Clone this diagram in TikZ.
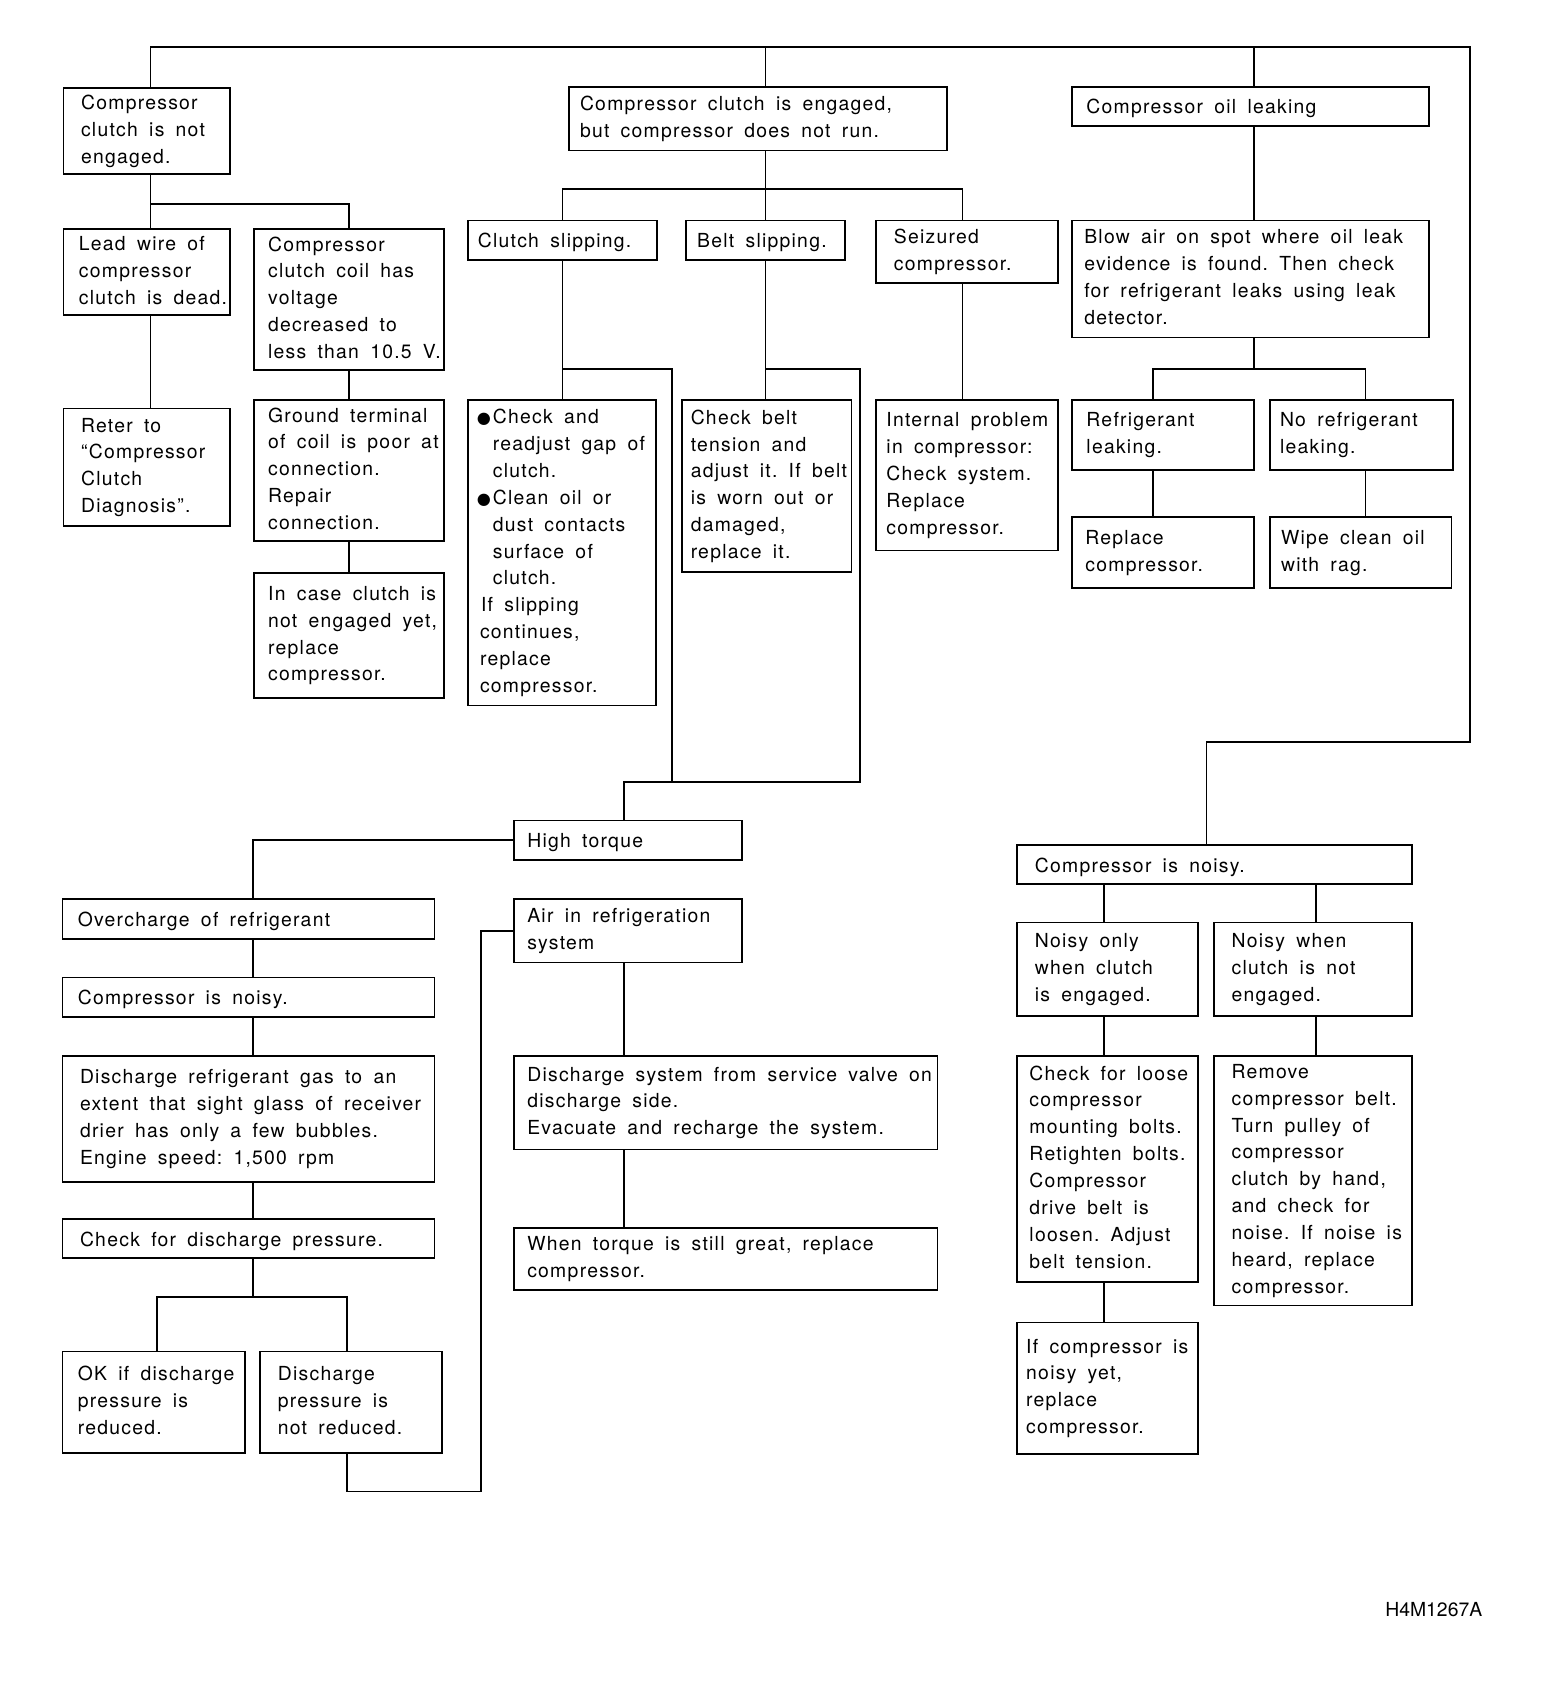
\documentclass[tikz,border=0pt]{standalone}
\usepackage{fontspec}
\setmainfont{TeX Gyre Heros}[LetterSpace=6.5, WordSpace=1.7]
\newfontfamily\plainfont{TeX Gyre Heros}
\newfontfamily\symfont{DejaVu Sans}
\newcommand\dgfont{\fontsize{9pt}{12.5pt}\selectfont\frenchspacing}
\newcommand\bul{\makebox[7.5pt][l]{\symfont\fontsize{7.5pt}{12.5pt}\selectfont ●}}
\newcommand\ind{\hspace*{7.5pt}}
\tikzset{
  fr/.style 2 args={draw, line width=0.8pt, anchor=north west, inner sep=0pt, outer sep=0pt,
    minimum width=#1*0.5pt, minimum height=#2*0.5pt},
  tx/.style={anchor=west, align=left, inner sep=0pt, font=\dgfont, yshift=-1pt,
    execute at begin node=\strut, execute at end node=\strut},
  ln/.style={line width=0.8pt}
}
\begin{document}
\begin{tikzpicture}[x=0.5pt, y=-0.5pt]
\useasboundingbox (0,0) rectangle (1458,1568);

% ---------- left column top ----------
\node[fr={155}{80}] (A) at (59,82) {};
\node[tx] (At) at ([xshift=8pt]A.west) {Compressor\\clutch is not\\engaged.};
\node[fr={155}{80}] (B) at (59,213) {};
\node[tx] (Bt) at ([xshift=7pt]B.west) {Lead wire of\\compressor\\clutch is dead.};
\node[fr={177}{131}] (C) at (236,213) {};
\node[tx] (Ct) at ([xshift=6.5pt]C.west) {Compressor\\clutch coil has\\voltage\\decreased to\\less than 10.5 V.};
\node[fr={155}{109}] (D) at (59,380) {};
\node[tx] (Dt) at ([xshift=8pt]D.west) {Reter to\\“Compressor\\Clutch\\Diagnosis”.};
\node[fr={177}{131}] (E) at (236,372) {};
\node[tx] (Et) at ([xshift=6.5pt]E.west) {Ground terminal\\of coil is poor at\\connection.\\Repair\\connection.};
\node[fr={177}{116}] (F) at (236,533) {};
\node[tx] (Ft) at ([xshift=6.5pt]F.west) {In case clutch is\\not engaged yet,\\replace\\compressor.};

% ---------- middle top ----------
\node[fr={352}{59}] (G) at (529,81) {};
\node[tx] (Gt) at ([xshift=5pt]G.west) {Compressor clutch is engaged,\\but compressor does not run.};
\node[fr={176}{37}] (H) at (435,205) {};
\node[tx] (Ht) at ([xshift=4.5pt]H.west) {Clutch slipping.};
\node[fr={148}{37}] (I) at (638,205) {};
\node[tx] (It) at ([xshift=5pt]I.west) {Belt slipping.};
\node[fr={169}{58}] (J) at (815,205) {};
\node[tx] (Jt) at ([xshift=8pt]J.west) {Seizured\\compressor.};
\node[fr={175}{284}] (K) at (435,372) {};
\node[tx] (Kt) at ([xshift=4pt]K.west) {\bul Check and\\\ind readjust gap of\\\ind clutch.\\\bul Clean oil or\\\ind dust contacts\\\ind surface of\\\ind clutch.\\\hspace*{2pt}If slipping\\\hspace*{1.5pt}continues,\\\hspace*{1.5pt}replace\\\hspace*{1.5pt}compressor.};
\node[fr={158}{160}] (L) at (634,372) {};
\node[tx] (Lt) at ([xshift=4pt]L.west) {Check belt\\tension and\\adjust it. If belt\\is worn out or\\damaged,\\replace it.};
\node[fr={169}{140}] (M) at (815,372) {};
\node[tx] (Mt) at ([xshift=4.5pt]M.west) {Internal problem\\in compressor:\\Check system.\\Replace\\compressor.};

% ---------- right top ----------
\node[fr={332}{36}] (N) at (997,81) {};
\node[tx] (Nt) at ([xshift=6.5pt]N.west) {Compressor oil leaking};
\node[fr={332}{109}] (O) at (997,205) {};
\node[tx] (Ot) at ([xshift=5.5pt]O.west) {Blow air on spot where oil leak\\evidence is found. Then check\\for refrigerant leaks using leak\\detector.};
\node[fr={169}{65}] (P) at (997,372) {};
\node[tx] (Pt) at ([xshift=6.5pt]P.west) {Refrigerant\\leaking.};
\node[fr={170}{65}] (Q) at (1181,372) {};
\node[tx] (Qt) at ([xshift=4.5pt]Q.west) {No refrigerant\\leaking.};
\node[fr={169}{66}] (R) at (997,481) {};
\node[tx] (Rt) at ([xshift=6pt]R.west) {Replace\\compressor.};
\node[fr={169}{66}] (S) at (1181,481) {};
\node[tx] (St) at ([xshift=5pt]S.west) {Wipe clean oil\\with rag.};

% ---------- high torque branch ----------
\node[fr={212}{37}] (T) at (478,763) {};
\node[tx] (Tt) at ([xshift=6pt]T.west) {High torque};
\node[fr={346}{37}] (U) at (58,836) {};
\node[tx] (Ut) at ([xshift=7pt]U.west) {Overcharge of refrigerant};
\node[fr={346}{37}] (V) at (58,909) {};
\node[tx] (Vt) at ([xshift=7pt]V.west) {Compressor is noisy.};
\node[fr={346}{117}] (W) at (58,982) {};
\node[tx] (Wt) at ([xshift=8pt]W.west) {Discharge refrigerant gas to an\\extent that sight glass of receiver\\drier has only a few bubbles.\\Engine speed: 1,500 rpm};
\node[fr={346}{36}] (X) at (58,1134) {};
\node[tx] (Xt) at ([xshift=8pt]X.west) {Check for discharge pressure.};
\node[fr={170}{94}] (Y) at (58,1257) {};
\node[tx] (Yt) at ([xshift=7pt]Y.west) {OK if discharge\\pressure is\\reduced.};
\node[fr={169}{94}] (Z) at (242,1257) {};
\node[tx] (Zt) at ([xshift=8pt]Z.west) {Discharge\\pressure is\\not reduced.};
\node[fr={212}{59}] (AA) at (478,836) {};
\node[tx] (AAt) at ([xshift=6pt]AA.west) {Air in refrigeration\\system};
\node[fr={394}{87}] (AB) at (478,982) {};
\node[tx] (ABt) at ([xshift=6pt]AB.west) {Discharge system from service valve on\\discharge side.\\Evacuate and recharge the system.};
\node[fr={394}{58}] (AC) at (478,1142) {};
\node[tx] (ACt) at ([xshift=6pt]AC.west) {When torque is still great, replace\\compressor.};

% ---------- noisy branch ----------
\node[fr={367}{36}] (AD) at (946,786) {};
\node[tx] (ADt) at ([xshift=8pt]AD.west) {Compressor is noisy.};
\node[fr={168}{87}] (AE) at (946,858) {};
\node[tx] (AEt) at ([xshift=8pt]AE.west) {Noisy only\\when clutch\\is engaged.};
\node[fr={184}{87}] (AF) at (1129,858) {};
\node[tx] (AFt) at ([xshift=8pt]AF.west) {Noisy when\\clutch is not\\engaged.};
\node[fr={168}{210}] (AG) at (946,982) {};
\node[tx] (AGt) at ([xshift=5.5pt]AG.west) {Check for loose\\compressor\\mounting bolts.\\Retighten bolts.\\Compressor\\drive belt is\\loosen. Adjust\\belt tension.};
\node[fr={184}{232}] (AH) at (1129,982) {};
\node[tx] (AHt) at ([xshift=8pt]AH.west) {Remove\\compressor belt.\\Turn pulley of\\compressor\\clutch by hand,\\and check for\\noise. If noise is\\heard, replace\\compressor.};
\node[fr={168}{122}] (AI) at (946,1230) {};
\node[tx] (AIt) at ([xshift=4pt]AI.west) {If compressor is\\noisy yet,\\replace\\compressor.};

\node[anchor=west, inner sep=0pt, font=\plainfont\fontsize{9pt}{11pt}\selectfont] (code) at (1288,1497) {H4M1267A};

% ---------- connectors ----------
\coordinate (tl) at (140,44);
\coordinate (tr) at (1367,44);
\coordinate (gx) at (712,44);
\coordinate (nx) at (1166,44);
\coordinate (rb) at (1122,690);
\draw[ln] (A.north -| tl) -- (tl) -- (tr) -- (tr |- rb) -- (rb) -- (AD.north -| rb);
\draw[ln] (gx) -- (G.north -| gx);
\draw[ln] (nx) -- (N.north -| nx);

\coordinate (ab) at (140,190);
\draw[ln] (A.south -| ab) -- (B.north -| ab);
\draw[ln] (ab) -- (ab -| C.north) -- (C.north);
\draw[ln] (B.south -| ab) -- (D.north -| ab);
\draw[ln] (C.south) -- (E.north);
\draw[ln] (E.south) -- (F.north);

\coordinate (g1) at (523,176);
\coordinate (gb) at (712,176);
\coordinate (g3) at (895,176);
\draw[ln] (G.south -| gb) -- (I.north -| gb);
\draw[ln] (H.north -| g1) -- (g1) -- (g3) -- (J.north -| g3);
\draw[ln] (J.south -| g3) -- (M.north -| g3);

\coordinate (hk) at (523,343);
\coordinate (hv) at (625,727);
\coordinate (il) at (712,343);
\coordinate (iv) at (800,727);
\coordinate (tj) at (580,727);
\draw[ln] (H.south -| hk) -- (K.north -| hk);
\draw[ln] (hk) -- (hk -| hv) -- (hv);
\draw[ln] (I.south -| il) -- (L.north -| il);
\draw[ln] (il) -- (il -| iv) -- (iv) -- (tj) -- (T.north -| tj);

\coordinate (ob) at (1166,343);
\coordinate (p1) at (1072,343);
\coordinate (q1) at (1270,343);
\draw[ln] (N.south -| ob) -- (O.north -| ob);
\draw[ln] (O.south -| ob) -- (ob);
\draw[ln] (P.north -| p1) -- (p1) -- (q1) -- (Q.north -| q1);
\draw[ln] (P.south -| p1) -- (R.north -| p1);
\draw[ln] (Q.south -| q1) -- (S.north -| q1);

\coordinate (ux) at (235,782);
\draw[ln] (T.west) -- (T.west -| ux) -- (U.north -| ux);
\draw[ln] (U.south -| ux) -- (V.north -| ux);
\draw[ln] (V.south -| ux) -- (W.north -| ux);
\draw[ln] (W.south -| ux) -- (X.north -| ux);
\coordinate (xb) at (235,1206);
\coordinate (y1) at (146,1206);
\coordinate (z1) at (323,1206);
\draw[ln] (X.south -| xb) -- (xb);
\draw[ln] (Y.north -| y1) -- (y1) -- (z1) -- (Z.north -| z1);
\coordinate (zb) at (323,1387);
\coordinate (za) at (447,1387);
\draw[ln] (Z.south -| zb) -- (zb) -- (za) -- (za |- AA.west) -- (AA.west);
\draw[ln] (AA.south -| tj) -- (AB.north -| tj);
\draw[ln] (AB.south -| tj) -- (AC.north -| tj);

\coordinate (ex) at (1027,840);
\coordinate (fx) at (1224,840);
\draw[ln] (AD.south -| ex) -- (AE.north -| ex);
\draw[ln] (AE.south -| ex) -- (AG.north -| ex);
\draw[ln] (AG.south -| ex) -- (AI.north -| ex);
\draw[ln] (AD.south -| fx) -- (AF.north -| fx);
\draw[ln] (AF.south -| fx) -- (AH.north -| fx);
\end{tikzpicture}
\end{document}
